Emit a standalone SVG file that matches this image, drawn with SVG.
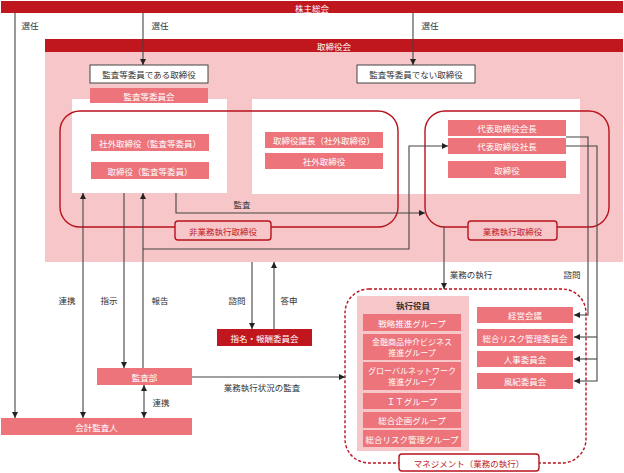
<svg xmlns="http://www.w3.org/2000/svg" width="624" height="473" viewBox="0 0 624 473">
<style>
text{font-family:"Noto Sans CJK JP","Noto Sans",sans-serif;font-size:8.5px;dominant-baseline:central;text-anchor:middle}
.dark{fill:#C0171F}
.mid{fill:#EC747A}
.light{fill:#F7C6C8}
.wt{fill:#FFFFFF}
.bt{fill:#333333}
.rt{fill:#C0171F}
.sm{font-size:8px}
.outline{fill:#FFFFFF;stroke:#444444;stroke-width:1}
.rr{fill:none;stroke:#B8121C;stroke-width:1.4}
.tag{fill:#F7C6C8;stroke:#B8121C;stroke-width:1.4}
.tagw{fill:#FFFFFF;stroke:#B8121C;stroke-width:1.4}
.dash{fill:none;stroke:#B8121C;stroke-width:1.4;stroke-dasharray:3 2}
.con{fill:none;stroke:#444444;stroke-width:1.1}
</style>
<defs>
<marker id="ah" viewBox="0 0 6 6" refX="6" refY="3" markerWidth="6" markerHeight="6" markerUnits="userSpaceOnUse" orient="auto-start-reverse">
<path d="M0,0 L6,3 L0,6 Z" fill="#222222"/>
</marker>
</defs>

<!-- backgrounds -->
<g id="board-area">
<rect class="light" x="45" y="52" width="578" height="210"/>
<rect class="wt" x="72" y="99" width="155" height="94"/>
<rect class="wt" x="252" y="99" width="328" height="95"/>
</g>

<g id="shareholders">
<rect class="dark" x="1" y="1" width="622" height="12"/>
<text class="wt" x="312" y="7.5" font-size="9">株主総会</text>
</g>

<g id="board">
<rect class="dark" x="45" y="39" width="578" height="13"/>
<text class="wt" x="334" y="45.5" font-size="9">取締役会</text>
</g>

<g id="audit-directors">
<rect class="outline" x="90" y="65" width="118" height="18"/>
<text class="bt" x="149" y="74">監査等委員である取締役</text>
</g>
<g id="nonaudit-directors">
<rect class="outline" x="357" y="65" width="118" height="18"/>
<text class="bt" x="416" y="74">監査等委員でない取締役</text>
</g>
<g id="audit-committee">
<rect class="mid" x="90" y="88" width="118" height="15"/>
<text class="wt" x="149" y="95.5">監査等委員会</text>
</g>

<g id="non-exec">
<rect class="rr" x="60" y="111" width="338" height="116" rx="20"/>
<rect class="tag" x="175" y="221" width="96" height="19" rx="3"/>
<text class="rt" x="223" y="230.5">非業務執行取締役</text>
</g>
<g id="exec">
<rect class="rr" x="425" y="111" width="184" height="116" rx="20"/>
<rect class="tag" x="468" y="221" width="89" height="19" rx="3"/>
<text class="rt" x="512.5" y="230.5">業務執行取締役</text>
</g>

<g id="outside-audit">
<rect class="mid" x="91" y="134" width="118" height="17"/>
<text class="wt" x="150" y="142.5">社外取締役（監査等委員）</text>
</g>
<g id="dir-audit">
<rect class="mid" x="91" y="162" width="118" height="17"/>
<text class="wt" x="150" y="170.5">取締役（監査等委員）</text>
</g>
<g id="chair">
<rect class="mid" x="265" y="132" width="118" height="16"/>
<text class="wt" x="324" y="140">取締役議長（社外取締役）</text>
</g>
<g id="outside">
<rect class="mid" x="265" y="153" width="118" height="16"/>
<text class="wt" x="324" y="161">社外取締役</text>
</g>
<g id="rep-chair">
<rect class="mid" x="448" y="120" width="118" height="16"/>
<text class="wt" x="507" y="128">代表取締役会長</text>
</g>
<g id="rep-pres">
<rect class="mid" x="448" y="138" width="118" height="16"/>
<text class="wt" x="507" y="146">代表取締役社長</text>
</g>
<g id="director">
<rect class="mid" x="448" y="161" width="118" height="17"/>
<text class="wt" x="507" y="169.5">取締役</text>
</g>

<g id="nomination">
<rect class="dark" x="217" y="329" width="95" height="17"/>
<text class="wt" x="264.5" y="337.5">指名・報酬委員会</text>
</g>
<g id="audit-dept">
<rect class="mid" x="97" y="368" width="95" height="17"/>
<text class="wt" x="144.5" y="376.5">監査部</text>
</g>
<g id="accounting-auditor">
<rect class="mid" x="1" y="418" width="191" height="17"/>
<text class="wt" x="96.5" y="426.5">会計監査人</text>
</g>

<g id="management">
<rect class="dash" x="345" y="289" width="241" height="174" rx="24"/>
<rect class="tagw" x="399" y="454" width="140" height="17" rx="3"/>
<text class="rt" x="469" y="462.5">マネジメント（業務の執行）</text>
</g>

<g id="officers">
<rect class="light" x="357" y="296" width="112" height="155"/>
<text class="bt" x="413" y="305" font-weight="bold">執行役員</text>
<rect class="mid" x="363" y="314" width="98" height="17"/>
<text class="wt" x="412" y="322.5">戦略推進グループ</text>
<rect class="mid" x="363" y="334" width="98" height="26"/>
<text class="wt sm" x="412" y="341.5">金融商品仲介ビジネス</text>
<text class="wt sm" x="412" y="352.5">推進グループ</text>
<rect class="mid" x="363" y="362" width="98" height="28"/>
<text class="wt sm" x="412" y="370.5">グローバルネットワーク</text>
<text class="wt sm" x="412" y="381.5">推進グループ</text>
<rect class="mid" x="363" y="393" width="98" height="16"/>
<text class="wt" x="412" y="401">ＩＴグループ</text>
<rect class="mid" x="363" y="412" width="98" height="16"/>
<text class="wt" x="412" y="420">総合企画グループ</text>
<rect class="mid" x="363" y="430" width="98" height="17"/>
<text class="wt" x="412" y="438.5">総合リスク管理グループ</text>
</g>

<g id="mgmt-meeting">
<rect class="mid" x="477" y="307" width="96" height="16"/>
<text class="wt" x="525" y="315">経営会議</text>
</g>
<g id="risk-committee">
<rect class="mid" x="477" y="329" width="96" height="17"/>
<text class="wt" x="525" y="337.5">総合リスク管理委員会</text>
</g>
<g id="hr-committee">
<rect class="mid" x="477" y="351" width="96" height="16"/>
<text class="wt" x="525" y="359">人事委員会</text>
</g>
<g id="discipline-committee">
<rect class="mid" x="477" y="373" width="96" height="16"/>
<text class="wt" x="525" y="381">風紀委員会</text>
</g>

<g id="connectors">
<path class="con" d="M15,13 V418" marker-end="url(#ah)"/>
<path class="con" d="M143,13 V65" marker-end="url(#ah)"/>
<path class="con" d="M413,13 V65" marker-end="url(#ah)"/>
<path class="con" d="M176,193 V213 H425" marker-end="url(#ah)"/>
<path class="con" d="M83,193 V418" marker-start="url(#ah)" marker-end="url(#ah)"/>
<path class="con" d="M124,193 V368" marker-end="url(#ah)"/>
<path class="con" d="M143,368 V193" marker-end="url(#ah)"/>
<path class="con" d="M143,249 H409 V146 H448" marker-end="url(#ah)"/>
<path class="con" d="M444,227 V289" marker-end="url(#ah)"/>
<path class="con" d="M566,137 H588 V315 H574" marker-end="url(#ah)"/>
<path class="con" d="M566,146 H597 V381 H574" marker-end="url(#ah)"/>
<path class="con" d="M597,337 H574" marker-end="url(#ah)"/>
<path class="con" d="M597,359 H574" marker-end="url(#ah)"/>
<path class="con" d="M252,262 V329" marker-end="url(#ah)"/>
<path class="con" d="M274,329 V262" marker-end="url(#ah)"/>
<path class="con" d="M192,377 H345" marker-end="url(#ah)"/>
<path class="con" d="M144,385 V418" marker-start="url(#ah)" marker-end="url(#ah)"/>
<text class="bt" x="30" y="25">選任</text>
<text class="bt" x="160" y="25">選任</text>
<text class="bt" x="430" y="25">選任</text>
<text class="bt" x="242" y="204">監査</text>
<text class="bt" x="471" y="274">業務の執行</text>
<text class="bt" x="572" y="274">諮問</text>
<text class="bt" x="67" y="300">連携</text>
<text class="bt" x="109" y="300">指示</text>
<text class="bt" x="160" y="300">報告</text>
<text class="bt" x="237" y="300">諮問</text>
<text class="bt" x="289" y="300">答申</text>
<text class="bt" x="262" y="387">業務執行状況の監査</text>
<text class="bt" x="161" y="402">連携</text>
</g>
</svg>
